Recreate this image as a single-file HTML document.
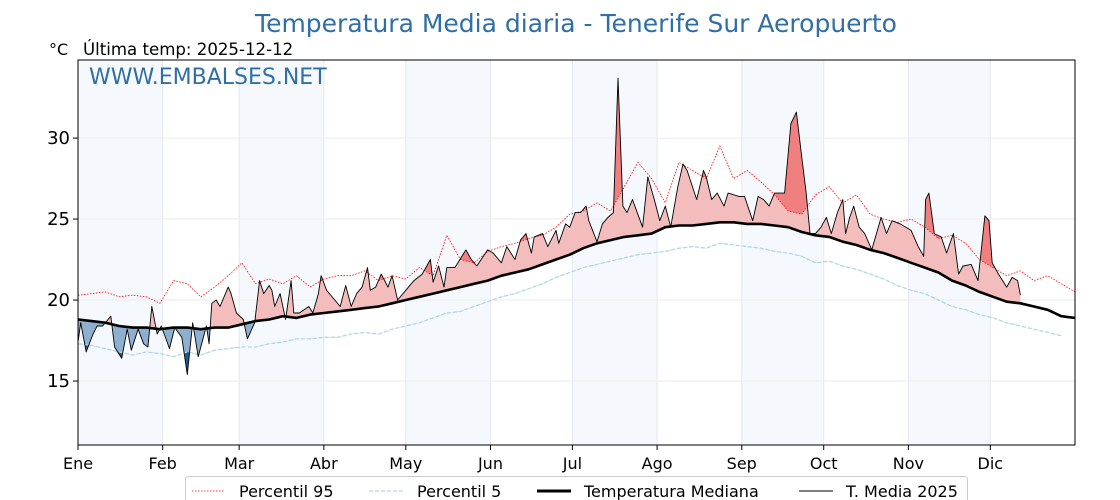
<!DOCTYPE html>
<html><head><meta charset="utf-8"><style>
html,body{margin:0;padding:0;background:#fff;width:1120px;height:500px;overflow:hidden}
svg{font-family:"DejaVu Sans","Liberation Sans",sans-serif}
</style></head><body>
<svg id="chart" width="1120" height="500" viewBox="0 0 1120 500" xmlns="http://www.w3.org/2000/svg">
<text x="576" y="32" text-anchor="middle" font-size="25" fill="#2f6fa6">Temperatura Media diaria - Tenerife Sur Aeropuerto</text>
<text x="49" y="55" font-size="16">°C</text>
<text x="83" y="55" font-size="16.6">Última temp: 2025-12-12</text>
<g id="bands"></g>
<g id="grid"></g>
<defs>
<clipPath id="plotClip"><rect x="78" y="60" width="997" height="385"/></clipPath>
<clipPath id="aboveMed"><polygon id="aboveMedPoly"/></clipPath>
<clipPath id="belowMed"><polygon id="belowMedPoly"/></clipPath>
<clipPath id="aboveP95"><polygon id="aboveP95Poly"/></clipPath>
<clipPath id="belowP5"><polygon id="belowP5Poly"/></clipPath>
</defs>
<g id="marks" clip-path="url(#plotClip)"></g>
<rect x="78" y="60" width="997" height="385" fill="none" stroke="#000" stroke-width="1"/>
<g id="axes"></g>
<text x="89" y="84" font-size="22" fill="#2f6fa6">WWW.EMBALSES.NET</text>
<g>
<rect x="185.5" y="476.5" width="782" height="40" rx="3" fill="#fff" stroke="#ccc"/>
<line x1="192" y1="491" x2="225" y2="491" stroke="#f00" stroke-width="0.8" stroke-dasharray="1.5,1.5"/>
<text x="239" y="497" font-size="16">Percentil 95</text>
<line x1="369" y1="491" x2="403" y2="491" stroke="#add8e6" stroke-width="1.2" stroke-dasharray="4,2"/>
<text x="417" y="497" font-size="16">Percentil 5</text>
<line x1="537" y1="491" x2="571" y2="491" stroke="#000" stroke-width="3"/>
<text x="584" y="497" font-size="16">Temperatura Mediana</text>
<line x1="799" y1="491" x2="833" y2="491" stroke="#000" stroke-width="1"/>
<text x="846" y="497" font-size="16">T. Media 2025</text>
</g>
</svg>
<script>
const median=[18.8,18.7,18.6,18.4,18.3,18.3,18.2,18.3,18.3,18.2,18.3,18.3,18.5,18.7,18.8,19.0,18.9,19.1,19.2,19.3,19.4,19.5,19.6,19.8,20.0,20.2,20.4,20.6,20.8,21.0,21.2,21.5,21.7,21.9,22.2,22.5,22.8,23.2,23.5,23.7,23.9,24.0,24.1,24.5,24.6,24.6,24.7,24.8,24.8,24.7,24.7,24.6,24.5,24.2,24.0,23.9,23.6,23.4,23.1,22.9,22.6,22.3,22.0,21.7,21.2,20.9,20.5,20.2,19.9,19.8,19.6,19.4,19.0];
const p95=[20.3,20.4,20.5,20.2,20.3,20.2,19.8,21.2,21.0,20.2,20.8,21.5,22.3,21.0,21.3,21.0,21.5,20.8,21.3,21.5,21.5,21.8,21.2,21.5,21.3,22.0,21.5,24.0,22.5,22.3,23.0,23.3,23.5,23.8,24.0,24.5,25.3,25.5,26.0,25.5,27.0,28.5,27.5,26.0,28.5,28.0,27.5,29.5,27.5,28.0,27.3,26.5,25.5,25.3,26.5,27.0,26.0,26.5,25.3,25.0,24.8,25.0,24.5,23.8,24.0,23.5,22.5,22.0,21.5,21.8,21.2,21.5,21.0];
const p5=[17.3,17.2,17.0,16.8,16.6,16.8,16.7,16.5,16.8,16.6,16.9,17.0,17.1,17.1,17.3,17.4,17.6,17.6,17.7,17.7,17.9,18.0,17.9,18.2,18.4,18.6,18.9,19.2,19.3,19.6,19.9,20.2,20.4,20.7,21.0,21.4,21.7,22.0,22.2,22.4,22.6,22.8,22.9,23.0,23.2,23.3,23.2,23.5,23.4,23.3,23.2,23.0,22.9,22.7,22.3,22.4,22.1,21.9,21.6,21.3,20.9,20.6,20.4,20.0,19.6,19.4,19.1,18.9,18.6,18.4,18.2,18.0,17.8];
const STEP=5;
const t2025=[[0,17.4],[1,18.6],[3,16.8],[5.5,17.9],[7,18.4],[9,18.4],[12,19.0],[13.4,17.1],[16,16.4],[18,18.2],[19.5,16.9],[22,18.2],[24,17.3],[25.6,17.1],[27,19.6],[29,17.9],[30.5,18.4],[33.5,17.0],[35.4,18.3],[38,17.7],[40,15.4],[42,18.6],[44,16.5],[47,18.4],[48,17.3],[49,19.8],[50.6,20.0],[52,19.6],[55,20.8],[56,20.4],[58,19.2],[60.5,18.8],[62,17.6],[64.7,18.6],[66.5,21.2],[68,20.4],[70,20.9],[71,20.6],[72,19.6],[74,20.4],[76,18.8],[78,21.2],[79,19.2],[81,19.2],[84.5,19.6],[86,19.2],[88,20.4],[89,21.5],[91,20.6],[94,20.0],[96,19.6],[98,20.9],[100,19.6],[102,20.4],[104,20.8],[106,22.0],[107,20.6],[109,20.8],[111,21.6],[113.5,20.8],[115,21.5],[117,20.0],[120,20.6],[121,20.8],[123,21.2],[126,21.6],[129,22.5],[130,21.1],[132,22.1],[134,20.8],[135,22.0],[138,22.0],[142,23.1],[144,22.5],[146,22.1],[150,23.1],[152,22.9],[155,22.3],[157,23.3],[160,22.5],[162,23.7],[164,24.1],[166,22.9],[167,23.9],[170,24.1],[172,23.3],[175,24.3],[176,23.5],[178.5,24.7],[180,24.5],[182,25.4],[184,25.4],[186,25.8],[187,24.9],[190,23.6],[192,24.7],[194,25.1],[196,25.4],[197.7,33.7],[199.5,25.8],[201,25.4],[203,26.2],[206.7,24.5],[208.6,27.6],[211,26.2],[213,24.9],[215,25.8],[217,24.5],[219.6,27.0],[221.5,28.4],[223,28.0],[226.5,26.2],[229,28.0],[230,27.6],[232,26.2],[234,26.6],[236.5,25.8],[238,26.6],[242,26.4],[244,26.4],[247,24.9],[249,26.4],[251,26.2],[253,25.8],[255,26.6],[258.7,26.6],[261,30.9],[263,31.6],[265,28.8],[266.6,26.6],[268,24.1],[270,24.1],[272,24.5],[274,25.1],[275.8,24.1],[278,25.4],[280,26.2],[281,24.1],[282.5,25.1],[284,25.8],[286,24.5],[288,24.1],[290.6,23.1],[294,25.1],[296,24.1],[298,24.9],[301,24.7],[305,24.3],[307.6,23.3],[309.6,22.7],[310.3,26.2],[311.5,26.6],[313.5,24.1],[316,23.9],[318,22.9],[320.5,24.1],[322.4,21.6],[324,22.1],[327,22.2],[329.5,21.2],[332,25.2],[333.5,24.9],[334.7,22.3],[337,21.6],[340,20.8],[342,21.4],[344,21.2],[345,20.3]];
const monthStarts=[0,31,59,90,120,151,181,212,243,273,304,334];
const monthLabels=["Ene","Feb","Mar","Abr","May","Jun","Jul","Ago","Sep","Oct","Nov","Dic"];
const yTicks=[15,20,25,30];

const NS="http://www.w3.org/2000/svg";
const X0=78,X1=1075,Y0=60,Y1=445,VMIN=11.05,VMAX=34.82;
function xs(d){return X0+d*(X1-X0)/365;}
function ys(v){return Y1-(v-VMIN)*(Y1-Y0)/(VMAX-VMIN);}
function mk(tag,attrs,parent){const e=document.createElementNS(NS,tag);for(const k in attrs)e.setAttribute(k,attrs[k]);parent.appendChild(e);return e;}
const bands=document.getElementById('bands'),grid=document.getElementById('grid'),marks=document.getElementById('marks'),axes=document.getElementById('axes');

monthStarts.forEach((d,i)=>{
  if(i%2===0){const e=d;const nd=i+1<12?monthStarts[i+1]:365;
    const r=mk('rect',{x:xs(e),y:Y0,width:xs(nd)-xs(e),height:Y1-Y0,fill:'#f5f9fd'},bands);
    
    }
  const g=mk('line',{x1:xs(d),x2:xs(d),y1:Y0,y2:Y1,stroke:'#e3e8ee','stroke-width':1},grid);
  
  
  const t=mk('line',{x1:xs(d),x2:xs(d),y1:Y1,y2:Y1+5,stroke:'#000'},axes);
  
  
  const l=mk('text',{x:xs(d),y:469,'font-size':16,'text-anchor':'middle'},axes);
  l.textContent=monthLabels[i];
  
  
});
yTicks.forEach(v=>{
  const g=mk('line',{x1:X0,x2:X1,y1:ys(v),y2:ys(v),stroke:'#ebebeb','stroke-width':1},grid);
  
  
  const t=mk('line',{x1:X0-5,x2:X0,y1:ys(v),y2:ys(v),stroke:'#000'},axes);
  
  
  const l=mk('text',{x:70,y:ys(v)+6,'font-size':18,'text-anchor':'end'},axes);
  l.textContent=v;
  
  
});

function interp(arr,d){const i=Math.min(Math.floor(d/STEP),arr.length-2);const f=(d-i*STEP)/STEP;return arr[i]+(arr[i+1]-arr[i])*f;}
const ser=arr=>arr.map((v,i)=>[xs(i*STEP),ys(v)]);
const pts=a=>a.map(p=>p[0].toFixed(1)+','+p[1].toFixed(1)).join(' ');
const medP=ser(median),p95P=ser(p95),p5P=ser(p5);
const tP=t2025.map(p=>[xs(p[0]),ys(p[1])]);
const lastDay=t2025[t2025.length-1][0];
const medBack=[];for(let d=lastDay;d>=0;d-=1)medBack.push([xs(d),ys(interp(median,d))]);
medBack.push([xs(0),ys(median[0])]);
const region=pts(tP.concat(medBack));
const ext=p=>[[X0,p[0][1]]].concat(p,[[X1,p[p.length-1][1]]]);
document.getElementById('aboveMedPoly').setAttribute('points',pts(ext(medP).concat([[X1,0],[X0,0]])));
document.getElementById('belowMedPoly').setAttribute('points',pts(ext(medP).concat([[X1,500],[X0,500]])));
document.getElementById('aboveP95Poly').setAttribute('points',pts(ext(p95P).concat([[X1,0],[X0,0]])));
document.getElementById('belowP5Poly').setAttribute('points',pts(ext(p5P).concat([[X1,500],[X0,500]])));
let e;
e=mk('polygon',{points:region,fill:'#f4bdbd','clip-path':'url(#aboveMed)'},marks);


e=mk('polygon',{points:region,fill:'#8eafcf','clip-path':'url(#belowMed)'},marks);


const gp=mk('g',{'clip-path':'url(#aboveP95)'},marks);
const p95Back=[];for(let d=lastDay;d>=0;d-=1)p95Back.push([xs(d),ys(interp(p95,d))]);
e=mk('polygon',{points:pts(tP.concat(p95Back)),fill:'#f08080'},gp);


const gb=mk('g',{'clip-path':'url(#belowP5)'},marks);
const p5Back=[];for(let d=lastDay;d>=0;d-=1)p5Back.push([xs(d),ys(interp(p5,d))]);
e=mk('polygon',{points:pts(tP.concat(p5Back)),fill:'#1f5a8f'},gb);


e=mk('polyline',{points:pts(p95P.concat([[X1,ys(p95[p95.length-1]-0.5)]])),fill:'none',stroke:'#f00','stroke-width':0.8,'stroke-dasharray':'1.5,1.5'},marks);


e=mk('polyline',{points:pts(p5P),fill:'none',stroke:'#add8e6','stroke-width':1.3,'stroke-dasharray':'4,2'},marks);


e=mk('polyline',{points:pts(medP.concat([[X1,ys(median[median.length-1]-0.1)]])),fill:'none',stroke:'#000','stroke-width':2.6,'stroke-linejoin':'round'},marks);


e=mk('polyline',{points:pts(tP),fill:'none',stroke:'#000','stroke-width':0.9,'stroke-linejoin':'round'},marks);


</script>
</body></html>
